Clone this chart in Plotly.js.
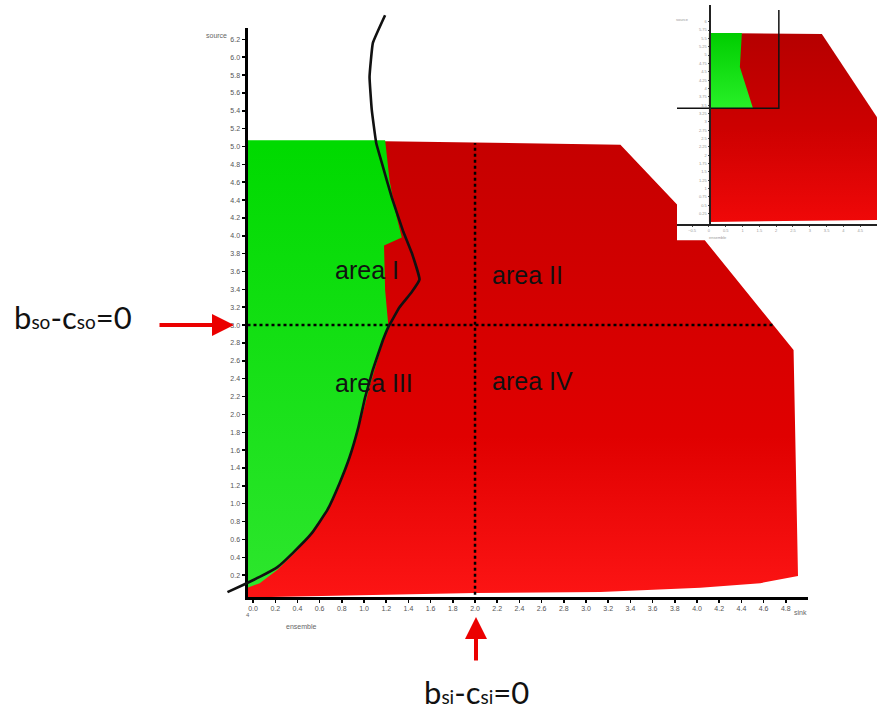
<!DOCTYPE html>
<html>
<head>
<meta charset="utf-8">
<script src="https://cdn.plot.ly/plotly-3.0.1.min.js"></script>
<style>html,body{margin:0;padding:0;background:#fff;}#chart{width:877px;height:711px;}</style>
</head>
<body>
<div id="chart"></div>
<script>
// ---------- data ----------
const xTickVals = [0.0,0.2,0.4,0.6,0.8,1.0,1.2,1.4,1.6,1.8,2.0,2.2,2.4,2.6,2.8,3.0,3.2,3.4,3.6,3.8,4.0,4.2,4.4,4.6,4.8];
const xTickText = ['0.0','0.2','0.4','0.6','0.8','1.0','1.2','1.4','1.6','1.8','2.0','2.2','2.4','2.6','2.8','3.0','3.2','3.4','3.6','3.8','4.0','4.2','4.4','4.6','4.8'];
const yTickVals = [0.2,0.4,0.6,0.8,1.0,1.2,1.4,1.6,1.8,2.0,2.2,2.4,2.6,2.8,3.0,3.2,3.4,3.6,3.8,4.0,4.2,4.4,4.6,4.8,5.0,5.2,5.4,5.6,5.8,6.0,6.2];
const yTickText = ['0.2','0.4','0.6','0.8','1.0','1.2','1.4','1.6','1.8','2.0','2.2','2.4','2.6','2.8','3.0','3.2','3.4','3.6','3.8','4.0','4.2','4.4','4.6','4.8','5.0','5.2','5.4','5.6','5.8','6.0','6.2'];

// red region (sink vs source)
const redX = [-0.05, 2.0, 3.13, 4.03, 4.57, 4.91, 4.87, 4.07, 3.82, 3.82, 3.31, 1.19, -0.05];
const redY = [-0.05, 0.0, 0.01, 0.06, 0.11, 0.19, 2.72, 3.95, 3.95, 4.35, 5.02, 5.06, 5.06];
// green region
const greenX = [-0.05, 1.19, 1.23, 1.29, 1.34, 1.18, 1.19, 1.22, 1.14, 1.05, 0.98, 0.90, 0.81, 0.69, 0.54, 0.40, 0.22, 0.06, -0.05];
const greenY = [5.07, 5.07, 4.62, 4.23, 3.98, 3.89, 3.39, 2.98, 2.69, 2.31, 1.97, 1.63, 1.30, 0.96, 0.71, 0.48, 0.26, 0.11, 0.06];
// black boundary curve
const curveX = [1.19,1.08,1.05,1.07,1.11,1.16,1.25,1.35,1.43,1.50,1.43,1.32,1.22,1.17,1.08,1.01,0.95,0.87,0.78,0.67,0.53,0.36,0.22,0.06,-0.09,-0.23];
const curveY = [6.47,6.16,5.78,5.41,5.04,4.82,4.43,4.06,3.81,3.51,3.37,3.20,2.98,2.83,2.50,2.19,1.86,1.52,1.23,0.93,0.67,0.45,0.29,0.18,0.09,0.01];
// dotted threshold lines (b_so - c_so = 0 at source 3.0, b_si - c_si = 0 at sink 2.0)
const hLineX = [-0.05, 4.70], hLineY = [3.0, 3.0];
const vLineX = [2.0, 2.0], vLineY = [-0.02, 5.04];

// inset
const insetRedX = [0, 5.0, 5.0, 3.36, 0];
const insetRedY = [0, 0.06, 3.14, 5.63, 5.66];
const insetGreenX = [0, 0.98, 0.92, 1.31, 0];
const insetGreenY = [5.66, 5.66, 4.64, 3.41, 3.41];
const insetCrossX = [-0.95, 2.08, 2.08];
const insetCrossY = [3.41, 3.41, 6.35];
const insetXTicks = [-0.5,0,0.5,1,1.5,2,2.5,3,3.5,4,4.5];
const insetYTicks = [0.25,0.5,0.75,1,1.25,1.5,1.75,2,2.25,2.5,2.75,3,3.25,3.5,3.75,4,4.25,4.5,4.75,5,5.25,5.5,5.75,6];

const areaLabels = ['area I', 'area II', 'area III', 'area IV'];
const eqSource = 'b<span style="font-size:19px">so</span>-c<span style="font-size:19px">so</span>=0';
const eqSink = 'b<span style="font-size:19px">si</span>-c<span style="font-size:19px">si</span>=0';

// ---------- layout helpers ----------
const W = 877, H = 711;
const PX = p => p / W;
const PY = p => 1 - p / H;

const traces = [
  {x: redX, y: redY, type: 'scatter', mode: 'lines', fill: 'toself', line: {width: 0},
   fillcolor: 'rgb(215,0,0)',
   fillgradient: {type: 'vertical', start: 0, stop: 5,
     colorscale: [[0, 'rgb(252,20,20)'], [0.35, 'rgb(224,0,0)'], [1, 'rgb(198,0,0)']]},
   xaxis: 'x', yaxis: 'y', hoverinfo: 'skip'},
  {x: greenX, y: greenY, type: 'scatter', mode: 'lines', fill: 'toself', line: {width: 0},
   fillcolor: 'rgb(0,220,0)',
   fillgradient: {type: 'vertical', start: 0, stop: 5,
     colorscale: [[0, 'rgb(45,230,45)'], [1, 'rgb(0,218,0)']]},
   xaxis: 'x', yaxis: 'y', hoverinfo: 'skip'},
  {x: hLineX, y: hLineY, type: 'scatter', mode: 'lines', line: {color: '#000', width: 2.5, dash: 'dot'},
   xaxis: 'x', yaxis: 'y', hoverinfo: 'skip'},
  {x: vLineX, y: vLineY, type: 'scatter', mode: 'lines', line: {color: '#000', width: 2.5, dash: 'dot'},
   xaxis: 'x', yaxis: 'y', hoverinfo: 'skip'},
  {x: curveX, y: curveY, type: 'scatter', mode: 'lines', line: {color: '#111', width: 2.6, shape: 'spline', smoothing: 0.3},
   xaxis: 'x2', yaxis: 'y2', hoverinfo: 'skip'},
  // inset
  {x: [-0.95, 5.0, 5.0, -0.95], y: [-0.06, -0.06, 6.5, 6.5], type: 'scatter', mode: 'lines', fill: 'toself',
   fillcolor: '#fff', line: {width: 0}, xaxis: 'x3', yaxis: 'y3', hoverinfo: 'skip'},
  {x: insetRedX, y: insetRedY, type: 'scatter', mode: 'lines', fill: 'toself', line: {width: 0},
   fillcolor: 'rgb(205,0,0)',
   fillgradient: {type: 'vertical', start: 0, stop: 5.6,
     colorscale: [[0, 'rgb(240,8,8)'], [0.5, 'rgb(205,0,0)'], [1, 'rgb(182,0,0)']]},
   xaxis: 'x3', yaxis: 'y3', hoverinfo: 'skip'},
  {x: insetGreenX, y: insetGreenY, type: 'scatter', mode: 'lines', fill: 'toself', line: {width: 0},
   fillcolor: 'rgb(0,215,0)',
   fillgradient: {type: 'vertical', start: 3.4, stop: 5.66,
     colorscale: [[0, 'rgb(40,240,40)'], [1, 'rgb(0,205,0)']]},
   xaxis: 'x3', yaxis: 'y3', hoverinfo: 'skip'},
  {x: insetCrossX, y: insetCrossY, type: 'scatter', mode: 'lines', line: {color: '#111', width: 1.5},
   xaxis: 'x3', yaxis: 'y3', hoverinfo: 'skip'}
];

const tickFont = {family: 'Arial, Liberation Sans, sans-serif', size: 7, color: '#555'};
const layout = {
  width: W, height: H, autosize: false,
  margin: {l: 0, r: 0, t: 0, b: 0},
  paper_bgcolor: '#fff', plot_bgcolor: 'rgba(0,0,0,0)',
  showlegend: false,
  xaxis: {domain: [PX(247.5), PX(808)], range: [-0.05, 5.0], anchor: 'y',
    showline: true, linecolor: '#000', linewidth: 3, showgrid: false, zeroline: false,
    tickmode: 'array', tickvals: xTickVals, ticktext: xTickText,
    ticks: 'outside', ticklen: 3, tickwidth: 1.5, tickcolor: '#000', tickfont: tickFont},
  yaxis: {domain: [PY(597), PY(28)], range: [-0.0448, 6.327], anchor: 'x',
    showline: true, linecolor: '#000', linewidth: 3, showgrid: false, zeroline: false,
    tickmode: 'array', tickvals: yTickVals, ticktext: yTickText,
    ticks: 'outside', ticklen: 3, tickwidth: 1.5, tickcolor: '#000', tickfont: tickFont},
  xaxis2: {domain: [0, 1], range: [-2.2793, 5.6216], anchor: 'y2', visible: false},
  yaxis2: {domain: [0, 1], range: [-1.3214, 6.6405], anchor: 'x2', visible: false},
  xaxis3: {domain: [PX(677), 1], range: [-0.95, 5.0], anchor: 'y3',
    showline: true, linecolor: '#222', linewidth: 1.5, showgrid: false, zeroline: false,
    tickmode: 'array', tickvals: insetXTicks, ticks: 'outside', ticklen: 1.5, tickcolor: '#444',
    tickfont: {family: 'Arial', size: 4, color: '#999'}},
  yaxis3: {domain: [PY(224), PY(5)], range: [-0.06, 6.5], anchor: 'free', position: PX(709),
    showline: true, linecolor: '#222', linewidth: 1.5, showgrid: false, zeroline: false,
    tickmode: 'array', tickvals: insetYTicks, ticks: 'outside', ticklen: 1.5, tickcolor: '#444',
    tickfont: {family: 'Arial', size: 4, color: '#999'}},
  annotations: [
    {text: areaLabels[0], x: PX(333), y: PY(270), xref: 'paper', yref: 'paper', xanchor: 'left', yanchor: 'middle', showarrow: false,
     font: {family: 'Liberation Sans, Arial, sans-serif', size: 25, color: '#111'}},
    {text: areaLabels[1], x: PX(490), y: PY(275), xref: 'paper', yref: 'paper', xanchor: 'left', yanchor: 'middle', showarrow: false,
     font: {family: 'Liberation Sans, Arial, sans-serif', size: 25, color: '#111'}},
    {text: areaLabels[2], x: PX(333), y: PY(383), xref: 'paper', yref: 'paper', xanchor: 'left', yanchor: 'middle', showarrow: false,
     font: {family: 'Liberation Sans, Arial, sans-serif', size: 25, color: '#111'}},
    {text: areaLabels[3], x: PX(490), y: PY(381), xref: 'paper', yref: 'paper', xanchor: 'left', yanchor: 'middle', showarrow: false,
     font: {family: 'Liberation Sans, Arial, sans-serif', size: 25, color: '#111'}},
    {text: eqSource, x: PX(12), y: PY(317), xref: 'paper', yref: 'paper', xanchor: 'left', yanchor: 'middle', showarrow: false,
     font: {family: 'Lato, Open Sans, sans-serif', size: 31, color: '#111'}},
    {text: eqSink, x: PX(476), y: PY(692), xref: 'paper', yref: 'paper', xanchor: 'center', yanchor: 'middle', showarrow: false,
     font: {family: 'Lato, Open Sans, sans-serif', size: 31, color: '#111'}},
    {text: '', x: PX(234), y: PY(325), xref: 'paper', yref: 'paper', showarrow: true, ax: -76, ay: 0,
     arrowcolor: 'rgb(235,0,0)', arrowwidth: 4, arrowhead: 2, arrowsize: 1.1, standoff: 0},
    {text: '', x: PX(476), y: PY(617), xref: 'paper', yref: 'paper', showarrow: true, ax: 0, ay: 45,
     arrowcolor: 'rgb(235,0,0)', arrowwidth: 4, arrowhead: 2, arrowsize: 1.1, standoff: 0},
    {text: 'source', x: PX(204), y: PY(30), xref: 'paper', yref: 'paper', showarrow: false, font: {family: 'Arial', size: 7, color: '#666'}},
    {text: 'ensemble', x: PX(284), y: PY(632), xref: 'paper', yref: 'paper', showarrow: false, font: {family: 'Arial', size: 7, color: '#666'}},
    {text: 'sink', x: PX(809), y: PY(618), xref: 'paper', yref: 'paper', showarrow: false, font: {family: 'Arial', size: 7, color: '#666'}},
    {text: '4', x: PX(244), y: PY(620), xref: 'paper', yref: 'paper', showarrow: false, font: {family: 'Arial', size: 6, color: '#666'}},
    {text: 'source', x: PX(691), y: PY(15), xref: 'paper', yref: 'paper', showarrow: false, font: {family: 'Arial', size: 4, color: '#999'}},
    {text: 'ensemble', x: PX(729), y: PY(233), xref: 'paper', yref: 'paper', showarrow: false, font: {family: 'Arial', size: 4, color: '#999'}}
  ]
};

Plotly.newPlot('chart', traces, layout, {staticPlot: true, displayModeBar: false});
</script>
</body>
</html>
